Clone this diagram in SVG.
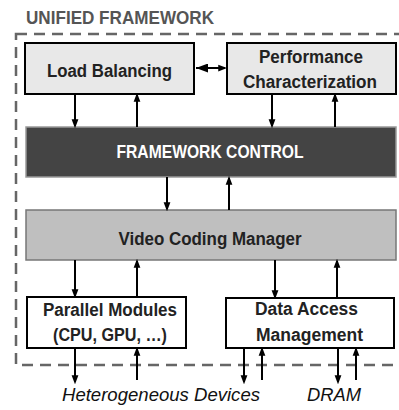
<svg xmlns="http://www.w3.org/2000/svg" width="399" height="410" viewBox="0 0 399 410">
<defs>
<marker id="ah" markerWidth="9" markerHeight="12" refX="9" refY="4.5" orient="auto" markerUnits="userSpaceOnUse" viewBox="0 0 12 9">
<path d="M0,0 L12,4.5 L0,9 Z" fill="#000"/>
</marker>
<marker id="ahs" markerWidth="12" markerHeight="9" refX="0" refY="4.5" orient="auto" markerUnits="userSpaceOnUse" viewBox="0 0 12 9">
<path d="M12,0 L0,4.5 L12,9 Z" fill="#000"/>
</marker>
</defs>
<style>
.lbl{font-family:"Liberation Sans",Arial,sans-serif;font-weight:bold;font-size:18px;fill:#222;text-anchor:middle}
.ext{font-family:"Liberation Sans",Arial,sans-serif;font-style:italic;font-size:17.5px;fill:#111}
.c{stroke:#000;stroke-width:2;fill:none;marker-end:url(#ah)}
</style>
<rect x="0" y="0" width="399" height="410" fill="#fff"/>
<text x="26" y="24" textLength="188" lengthAdjust="spacingAndGlyphs" style="font-family:'Liberation Sans',Arial,sans-serif;font-weight:bold;font-size:18px;fill:#555">UNIFIED FRAMEWORK</text>
<rect x="16" y="34" width="392" height="331" fill="none" stroke="#666" stroke-width="2.5" stroke-dasharray="11,7"/>

<g id="load-balancing">
<rect x="25" y="43" width="169" height="51" fill="#e8e8e8" stroke="#000" stroke-width="2"/>
<text class="lbl" x="109.5" y="77" textLength="125" lengthAdjust="spacingAndGlyphs">Load Balancing</text>
</g>
<g id="performance-characterization">
<rect x="227" y="43" width="169" height="51" fill="#e8e8e8" stroke="#000" stroke-width="2"/>
<text class="lbl" x="311" y="63" textLength="104" lengthAdjust="spacingAndGlyphs">Performance</text>
<text class="lbl" x="310" y="88" textLength="134" lengthAdjust="spacingAndGlyphs">Characterization</text>
</g>
<g id="framework-control">
<rect x="26" y="127" width="370" height="50" fill="#444" stroke="#999" stroke-width="1.5"/>
<text class="lbl" x="210" y="158" textLength="187" lengthAdjust="spacingAndGlyphs" style="fill:#fff">FRAMEWORK CONTROL</text>
</g>
<g id="video-coding-manager">
<rect x="26" y="210" width="370" height="50" fill="#bfbfbf" stroke="#777" stroke-width="1.5"/>
<text class="lbl" x="210" y="245" textLength="183" lengthAdjust="spacingAndGlyphs">Video Coding Manager</text>
</g>
<g id="parallel-modules">
<rect x="27" y="297" width="159" height="51" fill="#fff" stroke="#000" stroke-width="2"/>
<text class="lbl" x="110" y="316" textLength="134" lengthAdjust="spacingAndGlyphs">Parallel Modules</text>
<text class="lbl" x="110" y="341" textLength="114" lengthAdjust="spacingAndGlyphs">(CPU, GPU, …)</text>
</g>
<g id="data-access-management">
<rect x="226" y="298" width="168" height="50" fill="#fff" stroke="#000" stroke-width="2"/>
<text class="lbl" x="306.5" y="315" textLength="103" lengthAdjust="spacingAndGlyphs">Data Access</text>
<text class="lbl" x="309.5" y="341" textLength="107" lengthAdjust="spacingAndGlyphs">Management</text>
</g>
<g id="heterogeneous-devices">
<text class="ext" x="62" y="401" textLength="198" lengthAdjust="spacingAndGlyphs">Heterogeneous Devices</text>
</g>
<g id="dram">
<text class="ext" x="307" y="401" textLength="54" lengthAdjust="spacingAndGlyphs">DRAM</text>
</g>

<g id="connectors">
<line x1="196" y1="68" x2="225" y2="68" stroke="#000" stroke-width="2" marker-start="url(#ahs)" marker-end="url(#ah)"/>
<line class="c" x1="75" y1="94" x2="75" y2="126"/>
<line class="c" x1="137" y1="127" x2="137" y2="95"/>
<line class="c" x1="272" y1="94" x2="272" y2="126"/>
<line class="c" x1="335" y1="127" x2="335" y2="95"/>
<line class="c" x1="167" y1="177" x2="167" y2="209"/>
<line class="c" x1="229" y1="210" x2="229" y2="178"/>
<line class="c" x1="75" y1="260" x2="75" y2="296"/>
<line class="c" x1="137" y1="297" x2="137" y2="261"/>
<line class="c" x1="275" y1="260" x2="275" y2="297"/>
<line class="c" x1="337" y1="298" x2="337" y2="261"/>
<line class="c" x1="75" y1="348" x2="75" y2="382"/>
<line class="c" x1="137" y1="380" x2="137" y2="349"/>
<line class="c" x1="244" y1="348" x2="244" y2="382"/>
<line class="c" x1="262" y1="380" x2="262" y2="349"/>
<line class="c" x1="338" y1="348" x2="338" y2="382"/>
<line class="c" x1="356" y1="380" x2="356" y2="349"/>
</g>
</svg>
